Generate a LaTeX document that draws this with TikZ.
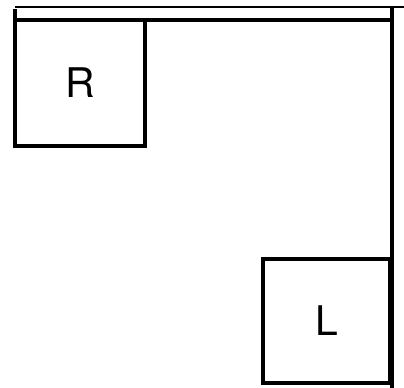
\documentclass[tikz,border=0pt]{standalone}
\usepackage{fontspec}
\setmainfont{TeX Gyre Heros}
\usetikzlibrary{positioning}

\begin{document}
\begin{tikzpicture}[
        x=1bp, y=-1bp,
        room/.style={draw, line width=3.2bp, inner sep=0pt, outer sep=0pt,
            font=\fontsize{41}{48}\selectfont},
        wall/.style={line width=3.4bp},
        thinwall/.style={line width=2bp}
    ]
        \useasboundingbox (0,0) rectangle (404,388);
        \node[room, minimum width=130bp, minimum height=126bp] (rbox) at (80,83) {R};
        \node[room, minimum width=127bp, minimum height=124bp] (lbox) at (326.5,321) {L};
        \coordinate (topleft) at (15,20);
        \coordinate (topright) at (392,20);
        \coordinate (bottomright) at (392,388);
        \draw[thinwall] (15,7) -- (404,7);
        \draw[wall] (topleft) -- (topright);
        \draw[wall] (15,9) -- (topleft);
        \draw[wall] (392,7) -- (bottomright);
    \end{tikzpicture}
\end{document}
